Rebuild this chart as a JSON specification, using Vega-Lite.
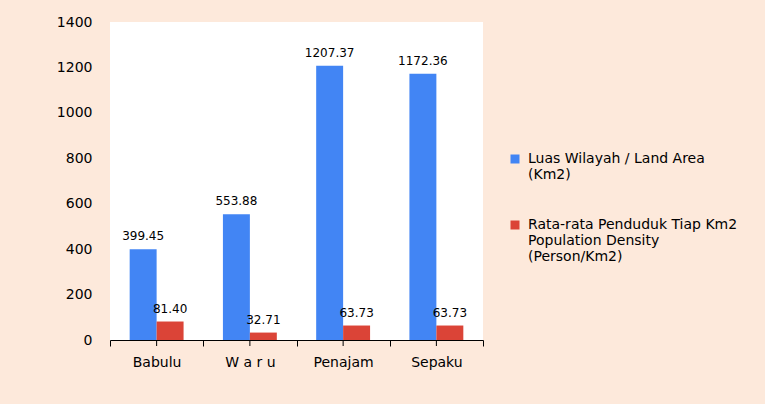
{
  "$schema": "https://vega.github.io/schema/vega-lite/v6.json",
  "autosize": {"type": "none"},
  "padding": {"left": 110, "top": 22, "right": 282, "bottom": 64},
  "width": 373,
  "height": 318,
  "background": "#FDE9DB",
  "config": {
    "view": {"fill": "#FFFFFF", "stroke": null},
    "font": "DejaVu Sans"
  },
  "data": {
    "values": [
      {"cat": "Babulu", "series": "Luas Wilayah / Land Area|(Km2)", "value": 399.45},
      {"cat": "Babulu", "series": "Rata-rata Penduduk Tiap Km2|Population Density|(Person/Km2)", "value": 81.40},
      {"cat": "W a r u", "series": "Luas Wilayah / Land Area|(Km2)", "value": 553.88},
      {"cat": "W a r u", "series": "Rata-rata Penduduk Tiap Km2|Population Density|(Person/Km2)", "value": 32.71},
      {"cat": "Penajam", "series": "Luas Wilayah / Land Area|(Km2)", "value": 1207.37},
      {"cat": "Penajam", "series": "Rata-rata Penduduk Tiap Km2|Population Density|(Person/Km2)", "value": 63.73},
      {"cat": "Sepaku", "series": "Luas Wilayah / Land Area|(Km2)", "value": 1172.36},
      {"cat": "Sepaku", "series": "Rata-rata Penduduk Tiap Km2|Population Density|(Person/Km2)", "value": 63.73}
    ]
  },
  "encoding": {
    "x": {
      "field": "cat", "type": "nominal",
      "sort": ["Babulu", "W a r u", "Penajam", "Sepaku"],
      "scale": {"paddingInner": 0, "paddingOuter": 0},
      "axis": {
        "title": null, "labelAngle": 0, "labelFontSize": 14, "labelColor": "#000000",
        "domainColor": "#000000", "tickColor": "#000000", "tickBand": "extent",
        "tickSize": 6, "labelPadding": 9
      }
    }
  },
  "layer": [
    {
      "mark": {"type": "bar"},
      "encoding": {
        "xOffset": {"field": "series", "type": "nominal", "scale": {"paddingInner": 0, "paddingOuter": 0.73}},
        "y": {
          "field": "value", "type": "quantitative",
          "scale": {"domain": [0, 1400], "nice": false},
          "axis": {
            "title": null, "values": [0, 200, 400, 600, 800, 1000, 1200, 1400], "format": "d",
            "domain": false, "ticks": false, "tickSize": 0, "grid": false,
            "labelFontSize": 14, "labelColor": "#000000", "labelPadding": 18
          }
        },
        "color": {
          "field": "series", "type": "nominal",
          "scale": {"range": ["#4285F4", "#DB4437"]},
          "legend": {
            "title": null, "orient": "none", "legendX": 398, "legendY": 130,
            "symbolType": "square", "symbolSize": 81, "symbolStrokeWidth": 0,
            "labelFontSize": 14, "labelColor": "#000000", "labelLimit": 300,
            "labelExpr": "split(datum.label, '|')", "rowPadding": 36, "labelOffset": 6
          }
        }
      }
    },
    {
      "mark": {"type": "text", "baseline": "bottom", "dy": -6, "fontSize": 12, "color": "#000000"},
      "encoding": {
        "xOffset": {"field": "series", "type": "nominal"},
        "y": {"field": "value", "type": "quantitative"},
        "text": {"field": "value", "type": "quantitative", "format": ".2f"}
      }
    },
    {
      "transform": [{"filter": "datum.series == 'Luas Wilayah / Land Area|(Km2)'"}],
      "mark": {"type": "rule", "color": "#000000", "y2Offset": 6, "clip": false},
      "encoding": {
        "y": {"datum": 0},
        "y2": {"datum": 0}
      }
    }
  ]
}
